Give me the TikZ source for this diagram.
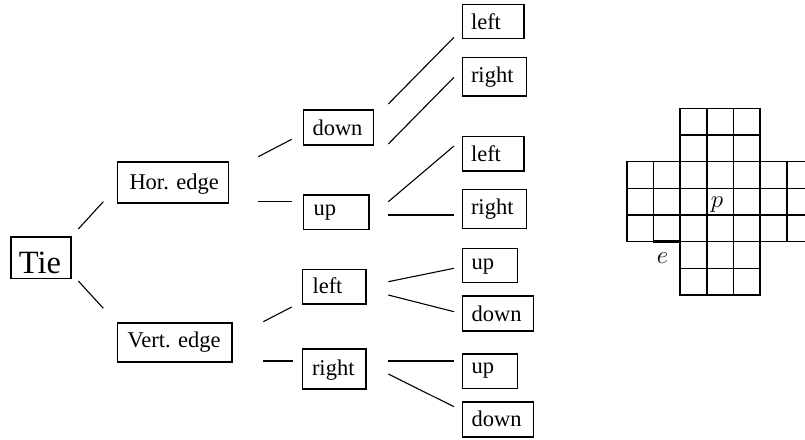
\documentclass[tikz,border=0pt]{standalone}
\usepackage{fontspec}
\setmainfont{Liberation Serif}
\begin{document}
\begin{tikzpicture}[x=1pt,y=-1pt,
  box/.style={draw, line width=1.6pt, anchor=base west, inner xsep=0pt, inner ysep=0pt,
              align=left, font=\fontsize{22.5}{27}\selectfont},
  link/.style={line width=1.1pt},
  cell/.style={draw, line width=1.6pt},
  mlabel/.style={inner sep=0pt, anchor=base, font=\fontsize{25}{30}\selectfont}]
\useasboundingbox (0,0) rectangle (805,439);

% ---- decision tree ----
\node[box, text width=60pt, text height=36.3pt, text depth=5pt,
      font=\fontsize{32.5}{39}\selectfont] (tie) at (10,273.3) {\hspace*{8pt}Tie};

\node[box, text width=110.8pt, text height=27pt, text depth=14pt] (hor) at (116.7,189) {\hspace*{12pt}\mbox{Hor.\ edge}};
\node[box, text width=114.3pt, text height=24.3pt, text depth=14.7pt] (vert) at (116.7,347) {\hspace*{10pt}\mbox{Vert.\ edge}};

\node[box, text width=70pt, text height=25.5pt, text depth=9.5pt] (down) at (302.7,135.5) {\hspace*{9pt}down};
\node[box, text width=65.6pt, text height=20pt, text depth=14.3pt] (up) at (302.7,215) {\hspace*{10pt}up};
\node[box, text width=63.3pt, text height=24pt, text depth=10.7pt] (vleft) at (301.7,293.3) {\hspace*{10pt}left};
\node[box, text width=63.3pt, text height=26pt, text depth=14pt] (vright) at (301.7,375) {\hspace*{9.5pt}right};

\node[box, text width=61.6pt, text height=25pt, text depth=8.8pt] (dleft) at (461.7,29.5) {\hspace*{8.5pt}left};
\node[box, text width=64pt, text height=25.2pt, text depth=13.3pt] (dright) at (461.7,82.7) {\hspace*{8.5pt}right};
\node[box, text width=61.6pt, text height=25pt, text depth=9.5pt] (uleft) at (461.7,161.5) {\hspace*{8.5pt}left};
\node[box, text width=64pt, text height=24.5pt, text depth=14.5pt] (uright) at (461.7,214) {\hspace*{8.5pt}right};
\node[box, text width=55pt, text height=21pt, text depth=13pt] (lup) at (461.7,269.3) {\hspace*{9pt}up};
\node[box, text width=71pt, text height=25.7pt, text depth=9pt] (ldown) at (461.7,321.7) {\hspace*{9pt}down};
\node[box, text width=55pt, text height=19.3pt, text depth=15pt] (rup) at (461.7,373.3) {\hspace*{9pt}up};
\node[box, text width=71pt, text height=25pt, text depth=10pt] (rdown) at (461.7,426.7) {\hspace*{9pt}down};

% ---- connectors (kept clear of the boxes) ----
\draw[link] ([shift={(6.7,-28.65)}]tie.east) -- ([shift={(-13.4,19.2)}]hor.west);
\draw[link] ([shift={(6.7,23.35)}]tie.east) -- ([shift={(-13.4,-33.9)}]vert.west);

\draw[link] ([shift={(29.2,-25.8)}]hor.east) -- ([shift={(-11,11.8)}]down.west);
\draw[link] ([shift={(29.2,19.2)}]hor.east) -- ([shift={(-11,-10.45)}]up.west);
\draw[link] ([shift={(30.7,-20.5)}]vert.east) -- ([shift={(-10,20.35)}]vleft.west);
\draw[link] ([shift={(30.7,18.8)}]vert.east) -- ([shift={(-9,-8)}]vright.west);

\draw[link] ([shift={(14,-23.5)}]down.east) -- ([shift={(-7.7,15.9)}]dleft.west);
\draw[link] ([shift={(14,16.5)}]down.east) -- ([shift={(-7.7,0.55)}]dright.west);
\draw[link] ([shift={(18.4,-10.45)}]up.east) -- ([shift={(-7.7,-7.75)}]uleft.west);
\draw[link] ([shift={(18.4,2.85)}]up.east) -- ([shift={(-7.7,6)}]uright.west);
\draw[link] ([shift={(21.7,-4.95)}]vleft.east) -- ([shift={(-7.7,3)}]lup.west);
\draw[link] ([shift={(21.7,8.35)}]vleft.east) -- ([shift={(-7.7,-1.65)}]ldown.west);
\draw[link] ([shift={(21.7,-8)}]vright.east) -- ([shift={(-7.7,-10.15)}]rup.west);
\draw[link] ([shift={(21.7,5)}]vright.east) -- ([shift={(-7.7,-12.5)}]rdown.west);

% ---- cross-shaped cell grid ----
\begin{scope}
\clip (0,0) rectangle (805,439);
\foreach \i in {2,3,4}
  \foreach \j in {0,...,6}
    \draw[cell] ({626.7+26.67*\i},{108.3+26.67*\j}) rectangle ++(26.67,26.67);
\foreach \i in {0,...,6}
  \foreach \j in {2,3,4}
    \draw[cell] ({626.7+26.67*\i},{108.3+26.67*\j}) rectangle ++(26.67,26.67);
\end{scope}
\coordinate (ea) at (653.3,241.7);
\coordinate (eb) at (680,241.7);
\draw[line width=3.5pt] (ea) -- (eb);
\node[mlabel] (plabel) at (717,207.5) {$p$};
\node[mlabel] (elabel) at (662.5,263) {$e$};
\end{tikzpicture}
\end{document}
